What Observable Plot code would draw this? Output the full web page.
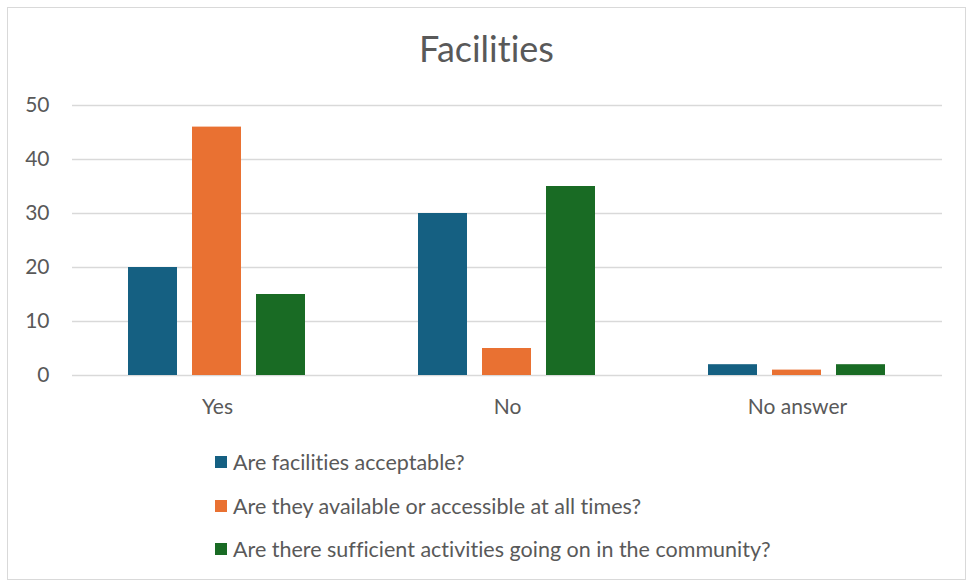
<!DOCTYPE html>
<html>
<head>
<meta charset="utf-8">
<script src="https://cdn.jsdelivr.net/npm/d3@7"></script>
<script src="https://cdn.jsdelivr.net/npm/@observablehq/plot@0.6"></script>
<style>
  html, body { margin: 0; padding: 0; background: #fff; }
  body { width: 973px; height: 585px; position: relative; overflow: hidden; font-family: Lato, "Open Sans", sans-serif; color: #595959; font-variant-ligatures: none; }
  #frame { position: absolute; left: 7px; top: 7px; width: 957px; height: 571px; border: 1px solid #d9d9d9; }
  #title { position: absolute; left: 0; width: 973px; top: 26px; line-height: 44px; text-align: center; font-size: 36px; color: #595959; font-variant-ligatures: none; }
  #chart { position: absolute; left: 8px; top: 80px; }
  #chart svg text { font-variant-ligatures: none; }
  #legend { position: absolute; left: 215px; top: 451px; }
  .item { position: relative; height: 22px; line-height: 22px; margin-bottom: 21.5px; display: flex; align-items: center; font-size: 21.5px; color: #595959; white-space: nowrap; }
  .sw { width: 12px; height: 12px; margin-right: 6px; flex: none; }
</style>
</head>
<body>
<div id="frame"></div>
<div id="title">Facilities</div>
<div id="chart"></div>
<div id="legend"></div>
<script>
const categories = ["Yes", "No", "No answer"];
const seriesNames = [
  "Are facilities acceptable?",
  "Are they available or accessible at all times?",
  "Are there sufficient activities going on in the community?"
];
const seriesColors = ["#156082", "#E97132", "#196B24"];
const acceptable = [20, 30, 2];
const available = [46, 5, 1];
const activities = [15, 35, 2];
const yTicks = [0, 10, 20, 30, 40, 50];

const seriesValues = [acceptable, available, activities];
const data = [];
categories.forEach((c, i) => {
  seriesNames.forEach((s, j) => {
    data.push({category: c, series: s, value: seriesValues[j][i]});
  });
});

const chart = Plot.plot({
  width: 958,
  height: 340,
  marginTop: 25,
  marginBottom: 45,
  marginLeft: 63,
  marginRight: 23,
  style: {fontFamily: "Lato, 'Open Sans', sans-serif", fontSize: "21px", color: "#595959", background: "transparent"},
  fx: {domain: categories, paddingInner: 0, paddingOuter: 0, label: null, axis: "bottom", tickSize: 0, tickPadding: 24},
  x: {domain: seriesNames, paddingInner: 0.23, paddingOuter: 0.85, axis: null},
  y: {domain: [0, 50], ticks: yTicks, label: null, tickSize: 0, tickPadding: 23},
  color: {domain: seriesNames, range: seriesColors},
  marks: [
    Plot.ruleY(yTicks, {stroke: "#d9d9d9", strokeWidth: 1.3}),
    Plot.barY(data, {fx: "category", x: "series", y: "value", fill: "series"})
  ]
});
document.getElementById("chart").appendChild(chart);

const legend = document.getElementById("legend");
seriesNames.forEach((s, j) => {
  const item = document.createElement("div");
  item.className = "item";
  const sw = document.createElement("span");
  sw.className = "sw";
  sw.style.background = seriesColors[j];
  const t = document.createElement("span");
  t.textContent = s;
  item.appendChild(sw);
  item.appendChild(t);
  legend.appendChild(item);
});
</script>
</body>
</html>
